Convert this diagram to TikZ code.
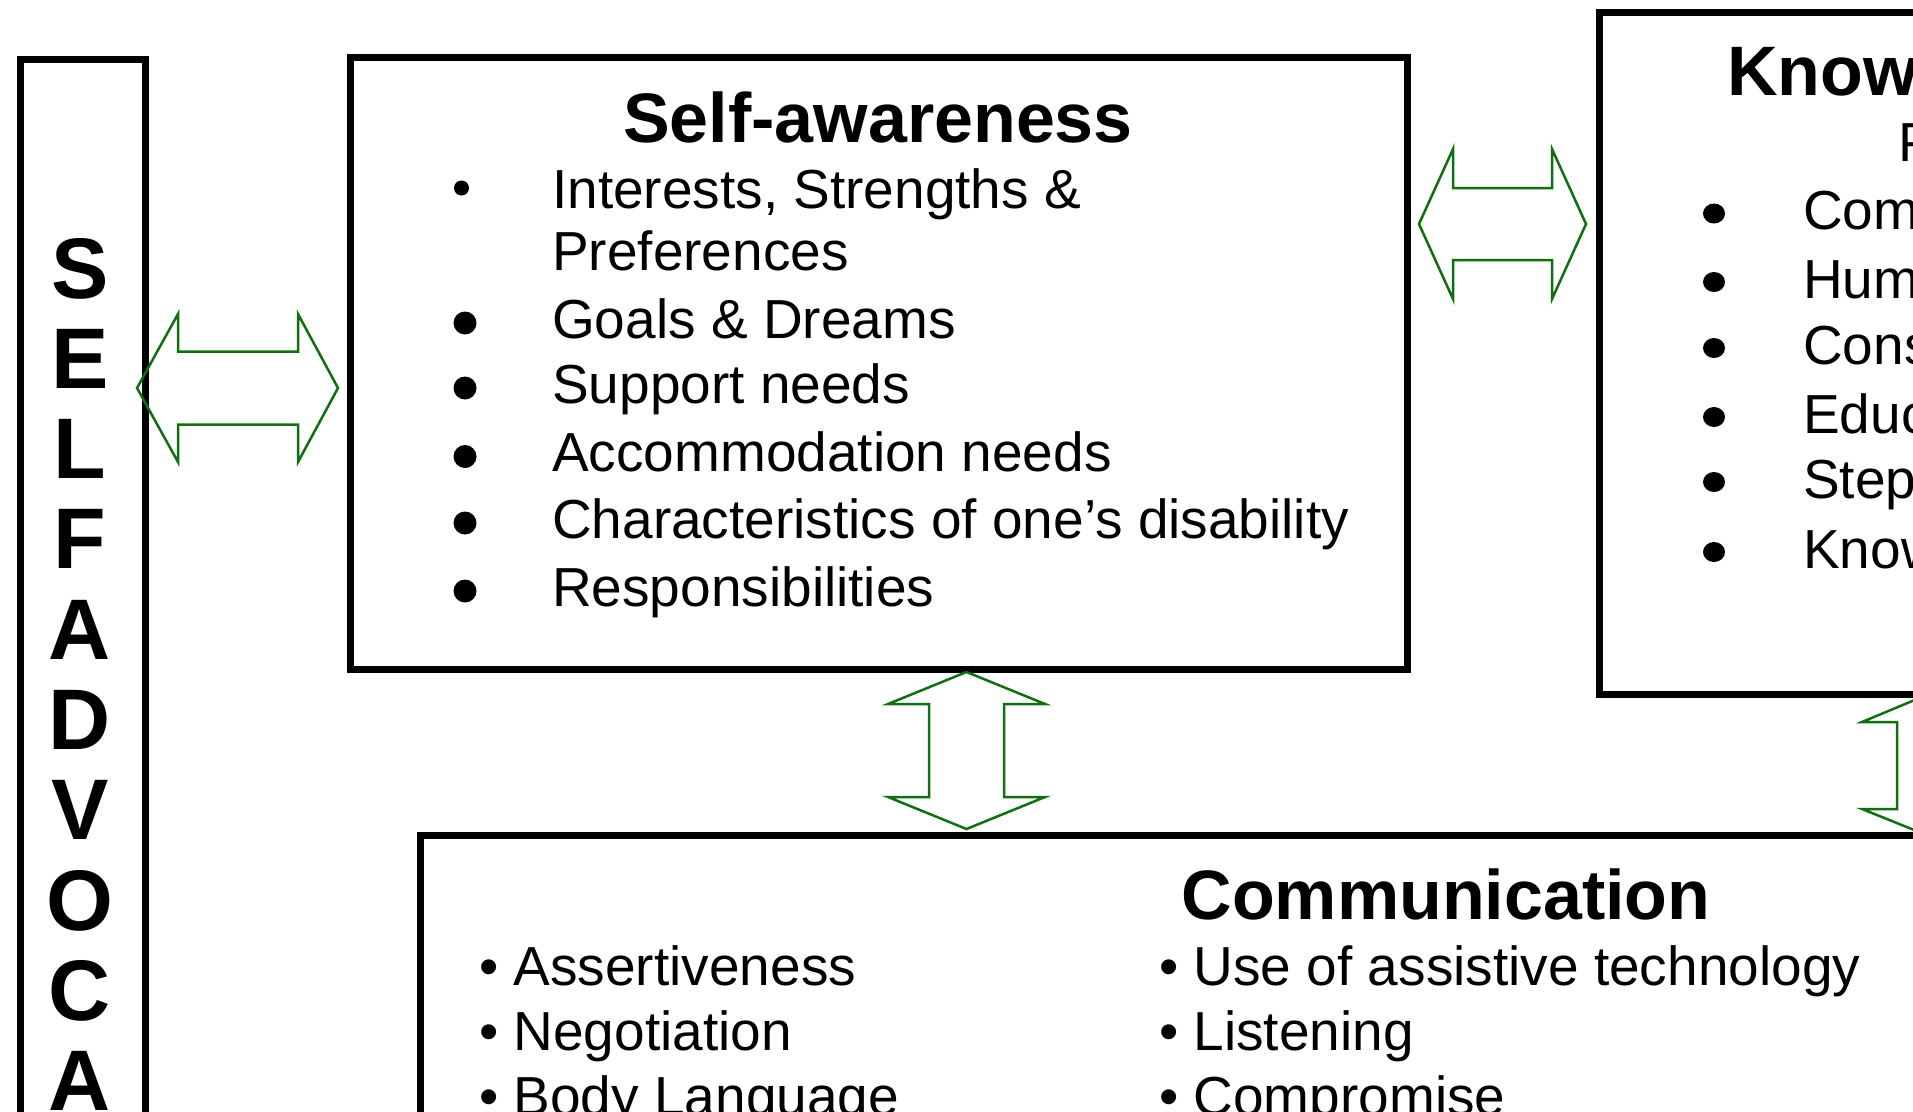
\documentclass[tikz,border=0pt]{standalone}
\usepackage{fontspec}
\setmainfont{Liberation Sans}
\definecolor{agreen}{RGB}{16,112,16}
\begin{document}
\begin{tikzpicture}[x=1pt,y=-1pt,
  box/.style={draw=black, line width=7pt, outer sep=0pt, inner sep=0pt, anchor=north west},
  garrow/.style={draw=agreen, line width=2.5pt, line join=miter},
  letter/.style={inner sep=0pt, anchor=base, font=\fontsize{86}{100}\selectfont\bfseries},
  ttl/.style={inner sep=0pt, anchor=base, font=\fontsize{70}{84}\selectfont\bfseries},
  item/.style={inner sep=0pt, anchor=base west, font=\fontsize{55}{66}\selectfont}]
\useasboundingbox (0,0) rectangle (1913,1111);
\clip (0,0) rectangle (1913,1111);
\fill[white] (0,0) rectangle (1913,1111);

% boxes
\node[box, minimum width=125pt, minimum height=1200pt] (col) at (20.5,59) {};
\node[box, minimum width=1057pt, minimum height=612pt] (self) at (350,57) {};
\node[box, minimum width=700pt, minimum height=682pt] (know) at (1599,12) {};
\node[box, minimum width=1700pt, minimum height=600pt] (comm) at (420,835) {};

% vertical title
\foreach \l [count=\i from 0] in {S,E,L,F,A,D,V,O,C,A}
  \node[letter] (L\i) at (80,{298+90.3*\i}) {\l};

% self-awareness
\node[ttl] (tself) at (878,142) {Self-awareness};
\fill (461.5,188) circle (7.5pt);
\node[item] (s1) at (552,208) {Interests, Strengths \&};
\node[item] (s1b) at (552,270) {Preferences};
\foreach \y/\t [count=\i] in {338/{Goals \& Dreams},403/{Support needs},471.5/{Accommodation needs},538/{Characteristics of one’s disability},606/{Responsibilities}}{
  \fill (465,\y-15) circle (11.5pt);
  \node[item] (sa\i) at (552,\y) {\t};
}

% knowledge
\node[ttl, anchor=base west] (tknow) at (1727,95) {Knowledge of Rights};
\node[item] (kp) at (1898.5,161.5) {Personal rights};
\foreach \y/\t [count=\i] in {229.5/{Community rights},298/{Human service rights},364/{Consumer rights},433/{Educational rights},498/{Steps to address violations},568/{Knowledge of resources}}{
  \fill (1714,\y-16) ellipse (11pt and 10pt);
  \node[item] (k\i) at (1803,\y) {\t};
}

% communication
\node[ttl] (tcomm) at (1446,919) {Communication};
\node[item] (c1) at (479,985) {• Assertiveness};
\node[item] (c2) at (479,1050) {• Negotiation};
\node[item] (c3) at (479,1115) {• Body Language};
\node[item] (c4) at (1159,985) {• Use of assistive technology};
\node[item] (c5) at (1159,1050) {• Listening};
\node[item] (c6) at (1159,1115) {• Compromise};

% green double arrows
\draw[garrow] (137,388) -- (178,314) -- (178,351.5) -- (298,351.5) -- (298,314) -- (338,388)
  -- (298,462) -- (298,424.5) -- (178,424.5) -- (178,462) -- cycle;
\draw[garrow] (1419,224) -- (1453,149) -- (1453,188) -- (1552,188) -- (1552,149) -- (1586,224)
  -- (1552,299) -- (1552,260) -- (1453,260) -- (1453,299) -- cycle;
\draw[garrow] (966.5,672) -- (1045,704) -- (1004,704) -- (1004,797) -- (1045,797) -- (966.5,829)
  -- (888,797) -- (929,797) -- (929,704) -- (888,704) -- cycle;
\draw[garrow] (1929,694) -- (1996,722) -- (1961,722) -- (1961,809) -- (1996,809) -- (1929,836)
  -- (1862,809) -- (1897,809) -- (1897,722) -- (1862,722) -- cycle;
\end{tikzpicture}
\end{document}
